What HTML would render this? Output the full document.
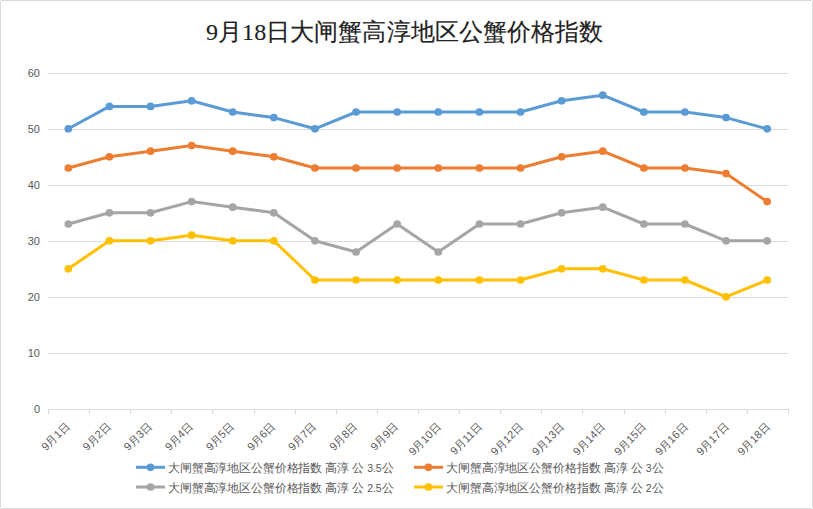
<!DOCTYPE html>
<html><head><meta charset="utf-8"><style>
html,body{margin:0;padding:0;background:#fff;}
body{width:813px;height:509px;overflow:hidden;position:relative;}
svg{position:absolute;left:0;top:0;}
.yl{font-family:"Liberation Sans",sans-serif;font-size:11px;fill:#595959;}
.xl{font-family:"Liberation Sans",sans-serif;font-size:11px;fill:#595959;}
.lg{font-family:"Liberation Sans",sans-serif;font-size:12px;fill:#595959;}
.dg{font-size:10.5px;}
.tt{font-family:"Liberation Serif",serif;font-size:24px;fill:#222;stroke:#222;stroke-width:0.15px;}
</style></head><body>
<svg width="813" height="509" viewBox="0 0 813 509">
<rect x="1" y="0" width="811" height="1" fill="#d9d9d9"/><rect x="1" y="508" width="811" height="1" fill="#d9d9d9"/><rect x="0" y="1" width="1" height="507" fill="#d9d9d9"/><rect x="812" y="1" width="1" height="507" fill="#d9d9d9"/>
<text x="206" y="40.2" class="tt" textLength="397" lengthAdjust="spacing">9月18日大闸蟹高淳地区公蟹价格指数</text>
<line x1="48" y1="353.5" x2="788" y2="353.5" stroke="#d9d9d9" stroke-width="1"/>
<line x1="48" y1="297.5" x2="788" y2="297.5" stroke="#d9d9d9" stroke-width="1"/>
<line x1="48" y1="241.5" x2="788" y2="241.5" stroke="#d9d9d9" stroke-width="1"/>
<line x1="48" y1="185.5" x2="788" y2="185.5" stroke="#d9d9d9" stroke-width="1"/>
<line x1="48" y1="129.5" x2="788" y2="129.5" stroke="#d9d9d9" stroke-width="1"/>
<line x1="48" y1="73.5" x2="788" y2="73.5" stroke="#d9d9d9" stroke-width="1"/>
<line x1="48" y1="409.5" x2="789" y2="409.5" stroke="#d9d9d9" stroke-width="1"/>
<line x1="48.5" y1="409.5" x2="48.5" y2="414" stroke="#d9d9d9" stroke-width="1"/>
<line x1="89.5" y1="409.5" x2="89.5" y2="414" stroke="#d9d9d9" stroke-width="1"/>
<line x1="130.5" y1="409.5" x2="130.5" y2="414" stroke="#d9d9d9" stroke-width="1"/>
<line x1="171.5" y1="409.5" x2="171.5" y2="414" stroke="#d9d9d9" stroke-width="1"/>
<line x1="212.5" y1="409.5" x2="212.5" y2="414" stroke="#d9d9d9" stroke-width="1"/>
<line x1="254.5" y1="409.5" x2="254.5" y2="414" stroke="#d9d9d9" stroke-width="1"/>
<line x1="295.5" y1="409.5" x2="295.5" y2="414" stroke="#d9d9d9" stroke-width="1"/>
<line x1="336.5" y1="409.5" x2="336.5" y2="414" stroke="#d9d9d9" stroke-width="1"/>
<line x1="377.5" y1="409.5" x2="377.5" y2="414" stroke="#d9d9d9" stroke-width="1"/>
<line x1="418.5" y1="409.5" x2="418.5" y2="414" stroke="#d9d9d9" stroke-width="1"/>
<line x1="459.5" y1="409.5" x2="459.5" y2="414" stroke="#d9d9d9" stroke-width="1"/>
<line x1="500.5" y1="409.5" x2="500.5" y2="414" stroke="#d9d9d9" stroke-width="1"/>
<line x1="541.5" y1="409.5" x2="541.5" y2="414" stroke="#d9d9d9" stroke-width="1"/>
<line x1="582.5" y1="409.5" x2="582.5" y2="414" stroke="#d9d9d9" stroke-width="1"/>
<line x1="624.5" y1="409.5" x2="624.5" y2="414" stroke="#d9d9d9" stroke-width="1"/>
<line x1="665.5" y1="409.5" x2="665.5" y2="414" stroke="#d9d9d9" stroke-width="1"/>
<line x1="706.5" y1="409.5" x2="706.5" y2="414" stroke="#d9d9d9" stroke-width="1"/>
<line x1="747.5" y1="409.5" x2="747.5" y2="414" stroke="#d9d9d9" stroke-width="1"/>
<line x1="788.5" y1="409.5" x2="788.5" y2="414" stroke="#d9d9d9" stroke-width="1"/>
<text x="40" y="412.7" text-anchor="end" class="yl">0</text>
<text x="40" y="356.7" text-anchor="end" class="yl">10</text>
<text x="40" y="300.7" text-anchor="end" class="yl">20</text>
<text x="40" y="244.7" text-anchor="end" class="yl">30</text>
<text x="40" y="188.7" text-anchor="end" class="yl">40</text>
<text x="40" y="132.7" text-anchor="end" class="yl">50</text>
<text x="40" y="76.7" text-anchor="end" class="yl">60</text>
<text transform="translate(70.3,427) rotate(-45)" text-anchor="end" class="xl">9月1日</text>
<text transform="translate(111.4,427) rotate(-45)" text-anchor="end" class="xl">9月2日</text>
<text transform="translate(152.5,427) rotate(-45)" text-anchor="end" class="xl">9月3日</text>
<text transform="translate(193.6,427) rotate(-45)" text-anchor="end" class="xl">9月4日</text>
<text transform="translate(234.7,427) rotate(-45)" text-anchor="end" class="xl">9月5日</text>
<text transform="translate(275.9,427) rotate(-45)" text-anchor="end" class="xl">9月6日</text>
<text transform="translate(317.0,427) rotate(-45)" text-anchor="end" class="xl">9月7日</text>
<text transform="translate(358.1,427) rotate(-45)" text-anchor="end" class="xl">9月8日</text>
<text transform="translate(399.2,427) rotate(-45)" text-anchor="end" class="xl">9月9日</text>
<text transform="translate(441.7,427.5) rotate(-45)" text-anchor="end" class="xl">9月10日</text>
<text transform="translate(482.8,427.5) rotate(-45)" text-anchor="end" class="xl">9月11日</text>
<text transform="translate(523.9,427.5) rotate(-45)" text-anchor="end" class="xl">9月12日</text>
<text transform="translate(565.0,427.5) rotate(-45)" text-anchor="end" class="xl">9月13日</text>
<text transform="translate(606.1,427.5) rotate(-45)" text-anchor="end" class="xl">9月14日</text>
<text transform="translate(647.2,427.5) rotate(-45)" text-anchor="end" class="xl">9月15日</text>
<text transform="translate(688.3,427.5) rotate(-45)" text-anchor="end" class="xl">9月16日</text>
<text transform="translate(729.5,427.5) rotate(-45)" text-anchor="end" class="xl">9月17日</text>
<text transform="translate(770.6,427.5) rotate(-45)" text-anchor="end" class="xl">9月18日</text>
<polyline points="68.30,128.80 109.41,106.40 150.52,106.40 191.63,100.80 232.74,112.00 273.85,117.60 314.96,128.80 356.07,112.00 397.18,112.00 438.29,112.00 479.40,112.00 520.51,112.00 561.62,100.80 602.73,95.20 643.84,112.00 684.95,112.00 726.06,117.60 767.17,128.80" fill="none" stroke="#5b9bd5" stroke-width="3" stroke-linejoin="round" stroke-linecap="round"/>
<circle cx="68.30" cy="128.80" r="3.85" fill="#5b9bd5"/>
<circle cx="109.41" cy="106.40" r="3.85" fill="#5b9bd5"/>
<circle cx="150.52" cy="106.40" r="3.85" fill="#5b9bd5"/>
<circle cx="191.63" cy="100.80" r="3.85" fill="#5b9bd5"/>
<circle cx="232.74" cy="112.00" r="3.85" fill="#5b9bd5"/>
<circle cx="273.85" cy="117.60" r="3.85" fill="#5b9bd5"/>
<circle cx="314.96" cy="128.80" r="3.85" fill="#5b9bd5"/>
<circle cx="356.07" cy="112.00" r="3.85" fill="#5b9bd5"/>
<circle cx="397.18" cy="112.00" r="3.85" fill="#5b9bd5"/>
<circle cx="438.29" cy="112.00" r="3.85" fill="#5b9bd5"/>
<circle cx="479.40" cy="112.00" r="3.85" fill="#5b9bd5"/>
<circle cx="520.51" cy="112.00" r="3.85" fill="#5b9bd5"/>
<circle cx="561.62" cy="100.80" r="3.85" fill="#5b9bd5"/>
<circle cx="602.73" cy="95.20" r="3.85" fill="#5b9bd5"/>
<circle cx="643.84" cy="112.00" r="3.85" fill="#5b9bd5"/>
<circle cx="684.95" cy="112.00" r="3.85" fill="#5b9bd5"/>
<circle cx="726.06" cy="117.60" r="3.85" fill="#5b9bd5"/>
<circle cx="767.17" cy="128.80" r="3.85" fill="#5b9bd5"/>
<polyline points="68.30,168.00 109.41,156.80 150.52,151.20 191.63,145.60 232.74,151.20 273.85,156.80 314.96,168.00 356.07,168.00 397.18,168.00 438.29,168.00 479.40,168.00 520.51,168.00 561.62,156.80 602.73,151.20 643.84,168.00 684.95,168.00 726.06,173.60 767.17,201.60" fill="none" stroke="#ed7d31" stroke-width="3" stroke-linejoin="round" stroke-linecap="round"/>
<circle cx="68.30" cy="168.00" r="3.85" fill="#ed7d31"/>
<circle cx="109.41" cy="156.80" r="3.85" fill="#ed7d31"/>
<circle cx="150.52" cy="151.20" r="3.85" fill="#ed7d31"/>
<circle cx="191.63" cy="145.60" r="3.85" fill="#ed7d31"/>
<circle cx="232.74" cy="151.20" r="3.85" fill="#ed7d31"/>
<circle cx="273.85" cy="156.80" r="3.85" fill="#ed7d31"/>
<circle cx="314.96" cy="168.00" r="3.85" fill="#ed7d31"/>
<circle cx="356.07" cy="168.00" r="3.85" fill="#ed7d31"/>
<circle cx="397.18" cy="168.00" r="3.85" fill="#ed7d31"/>
<circle cx="438.29" cy="168.00" r="3.85" fill="#ed7d31"/>
<circle cx="479.40" cy="168.00" r="3.85" fill="#ed7d31"/>
<circle cx="520.51" cy="168.00" r="3.85" fill="#ed7d31"/>
<circle cx="561.62" cy="156.80" r="3.85" fill="#ed7d31"/>
<circle cx="602.73" cy="151.20" r="3.85" fill="#ed7d31"/>
<circle cx="643.84" cy="168.00" r="3.85" fill="#ed7d31"/>
<circle cx="684.95" cy="168.00" r="3.85" fill="#ed7d31"/>
<circle cx="726.06" cy="173.60" r="3.85" fill="#ed7d31"/>
<circle cx="767.17" cy="201.60" r="3.85" fill="#ed7d31"/>
<polyline points="68.30,224.00 109.41,212.80 150.52,212.80 191.63,201.60 232.74,207.20 273.85,212.80 314.96,240.80 356.07,252.00 397.18,224.00 438.29,252.00 479.40,224.00 520.51,224.00 561.62,212.80 602.73,207.20 643.84,224.00 684.95,224.00 726.06,240.80 767.17,240.80" fill="none" stroke="#a5a5a5" stroke-width="3" stroke-linejoin="round" stroke-linecap="round"/>
<circle cx="68.30" cy="224.00" r="3.85" fill="#a5a5a5"/>
<circle cx="109.41" cy="212.80" r="3.85" fill="#a5a5a5"/>
<circle cx="150.52" cy="212.80" r="3.85" fill="#a5a5a5"/>
<circle cx="191.63" cy="201.60" r="3.85" fill="#a5a5a5"/>
<circle cx="232.74" cy="207.20" r="3.85" fill="#a5a5a5"/>
<circle cx="273.85" cy="212.80" r="3.85" fill="#a5a5a5"/>
<circle cx="314.96" cy="240.80" r="3.85" fill="#a5a5a5"/>
<circle cx="356.07" cy="252.00" r="3.85" fill="#a5a5a5"/>
<circle cx="397.18" cy="224.00" r="3.85" fill="#a5a5a5"/>
<circle cx="438.29" cy="252.00" r="3.85" fill="#a5a5a5"/>
<circle cx="479.40" cy="224.00" r="3.85" fill="#a5a5a5"/>
<circle cx="520.51" cy="224.00" r="3.85" fill="#a5a5a5"/>
<circle cx="561.62" cy="212.80" r="3.85" fill="#a5a5a5"/>
<circle cx="602.73" cy="207.20" r="3.85" fill="#a5a5a5"/>
<circle cx="643.84" cy="224.00" r="3.85" fill="#a5a5a5"/>
<circle cx="684.95" cy="224.00" r="3.85" fill="#a5a5a5"/>
<circle cx="726.06" cy="240.80" r="3.85" fill="#a5a5a5"/>
<circle cx="767.17" cy="240.80" r="3.85" fill="#a5a5a5"/>
<polyline points="68.30,268.80 109.41,240.80 150.52,240.80 191.63,235.20 232.74,240.80 273.85,240.80 314.96,280.00 356.07,280.00 397.18,280.00 438.29,280.00 479.40,280.00 520.51,280.00 561.62,268.80 602.73,268.80 643.84,280.00 684.95,280.00 726.06,296.80 767.17,280.00" fill="none" stroke="#ffc000" stroke-width="3" stroke-linejoin="round" stroke-linecap="round"/>
<circle cx="68.30" cy="268.80" r="3.85" fill="#ffc000"/>
<circle cx="109.41" cy="240.80" r="3.85" fill="#ffc000"/>
<circle cx="150.52" cy="240.80" r="3.85" fill="#ffc000"/>
<circle cx="191.63" cy="235.20" r="3.85" fill="#ffc000"/>
<circle cx="232.74" cy="240.80" r="3.85" fill="#ffc000"/>
<circle cx="273.85" cy="240.80" r="3.85" fill="#ffc000"/>
<circle cx="314.96" cy="280.00" r="3.85" fill="#ffc000"/>
<circle cx="356.07" cy="280.00" r="3.85" fill="#ffc000"/>
<circle cx="397.18" cy="280.00" r="3.85" fill="#ffc000"/>
<circle cx="438.29" cy="280.00" r="3.85" fill="#ffc000"/>
<circle cx="479.40" cy="280.00" r="3.85" fill="#ffc000"/>
<circle cx="520.51" cy="280.00" r="3.85" fill="#ffc000"/>
<circle cx="561.62" cy="268.80" r="3.85" fill="#ffc000"/>
<circle cx="602.73" cy="268.80" r="3.85" fill="#ffc000"/>
<circle cx="643.84" cy="280.00" r="3.85" fill="#ffc000"/>
<circle cx="684.95" cy="280.00" r="3.85" fill="#ffc000"/>
<circle cx="726.06" cy="296.80" r="3.85" fill="#ffc000"/>
<circle cx="767.17" cy="280.00" r="3.85" fill="#ffc000"/>
<line x1="136" y1="467.3" x2="165" y2="467.3" stroke="#5b9bd5" stroke-width="3"/>
<circle cx="150.5" cy="467.3" r="3.85" fill="#5b9bd5"/>
<text x="168" y="471.8" class="lg" textLength="225.5" lengthAdjust="spacing">大闸蟹高淳地区公蟹价格指数 高淳 公 <tspan class="dg">3.5</tspan>公</text>
<line x1="414" y1="467.3" x2="443" y2="467.3" stroke="#ed7d31" stroke-width="3"/>
<circle cx="428.5" cy="467.3" r="3.85" fill="#ed7d31"/>
<text x="446" y="471.8" class="lg" textLength="217.6" lengthAdjust="spacing">大闸蟹高淳地区公蟹价格指数 高淳 公 <tspan class="dg">3</tspan>公</text>
<line x1="136" y1="487" x2="165" y2="487" stroke="#a5a5a5" stroke-width="3"/>
<circle cx="150.5" cy="487" r="3.85" fill="#a5a5a5"/>
<text x="168" y="491.5" class="lg" textLength="225.5" lengthAdjust="spacing">大闸蟹高淳地区公蟹价格指数 高淳 公 <tspan class="dg">2.5</tspan>公</text>
<line x1="414" y1="487" x2="443" y2="487" stroke="#ffc000" stroke-width="3"/>
<circle cx="428.5" cy="487" r="3.85" fill="#ffc000"/>
<text x="446" y="491.5" class="lg" textLength="217.6" lengthAdjust="spacing">大闸蟹高淳地区公蟹价格指数 高淳 公 <tspan class="dg">2</tspan>公</text>
</svg>
</body></html>
